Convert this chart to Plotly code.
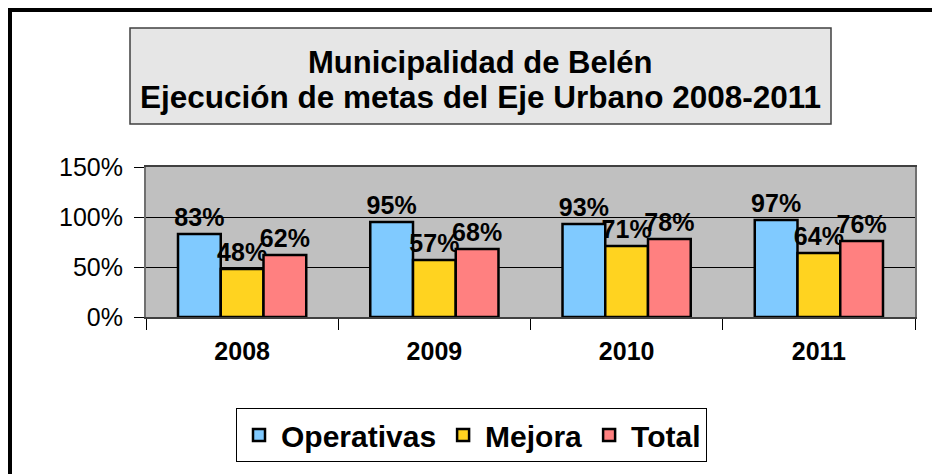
import plotly.graph_objects as go

years = ["2008", "2009", "2010", "2011"]
operativas = [0.83, 0.95, 0.93, 0.97]
mejora = [0.48, 0.57, 0.71, 0.64]
total = [0.62, 0.68, 0.78, 0.76]

series = [
    ("Operativas", operativas, "#80CAFF"),
    ("Mejora", mejora, "#FFD320"),
    ("Total", total, "#FF8080"),
]

OFF = 8  # page body margin
W, H = 940, 474
# plot area in page pixels: x 146-915, y 167-317
L, T = 146 - OFF, 167 - OFF
R = W - (915 - OFF)
B = H - (317 - OFF)
pw, ph = W - L - R, H - T - B

def px(x):
    return (x - OFF - L) / pw

def py(y):
    return (H - B - (y - OFF)) / ph

FONT = "Liberation Sans, Arial, sans-serif"

fig = go.Figure()
for name, vals, col in series:
    fig.add_trace(go.Bar(
        x=years, y=vals, name=name,
        marker=dict(color=col, line=dict(color="black", width=2.5)),
        texttemplate="%{y:.0%}", textposition="outside",
        textfont=dict(family=FONT, size=25, color="black", weight="bold"),
        constraintext="none", cliponaxis=False,
    ))

fig.update_layout(
    width=W, height=H,
    margin=dict(l=L, r=R, t=T, b=B, autoexpand=False),
    paper_bgcolor="white", plot_bgcolor="#C0C0C0",
    barmode="group", bargap=0.333, bargroupgap=0,
    font=dict(family=FONT, color="black"),
    showlegend=True,
    legend=dict(
        orientation="h", x=px(471.5), xanchor="center", y=py(408), yanchor="top",
        bordercolor="black", borderwidth=1, bgcolor="white",
        font=dict(family=FONT, size=30, color="black", weight="bold"),
        itemwidth=34, traceorder="normal",
    ),
    xaxis=dict(
        type="category", tickson="boundaries", ticks="outside", ticklen=11,
        tickcolor="black", showline=True, linecolor="#404040", linewidth=2, mirror=True,
        tickfont=dict(family=FONT, size=25, color="black", weight="bold"),
        ticklabelstandoff=11, showgrid=False,
    ),
    yaxis=dict(
        range=[0, 1.5], dtick=0.5, tickformat=".0%", ticks="outside", ticklen=10,
        tickcolor="black", showline=True, linecolor="#707070", linewidth=2, mirror=True,
        showgrid=True, gridcolor="black", gridwidth=1, zeroline=False,
        tickfont=dict(family=FONT, size=25, color="black"),
        ticklabelstandoff=6,
    ),
    shapes=[
        dict(type="rect", xref="paper", yref="paper",
             x0=px(130), x1=px(831), y0=py(124), y1=py(28),
             fillcolor="#E6E6E6", line=dict(color="#404040", width=1.5), layer="below"),
        dict(type="line", xref="paper", yref="paper",
             x0=px(10), x1=px(10), y0=py(8), y1=py(490), line=dict(color="black", width=4)),
        dict(type="line", xref="paper", yref="paper",
             x0=px(8), x1=px(960), y0=py(10), y1=py(10), line=dict(color="black", width=4)),
    ],
    annotations=[
        dict(text="Municipalidad de Belén", xref="paper", yref="paper",
             x=px(480.5), y=py(62), xanchor="center", yanchor="middle", showarrow=False,
             font=dict(family=FONT, size=31, color="black", weight="bold")),
        dict(text="Ejecución de metas del Eje Urbano 2008-2011", xref="paper", yref="paper",
             x=px(480.5), y=py(97), xanchor="center", yanchor="middle", showarrow=False,
             font=dict(family=FONT, size=31.5, color="black", weight="bold")),
    ],
)

fig.write_html("out.html")
